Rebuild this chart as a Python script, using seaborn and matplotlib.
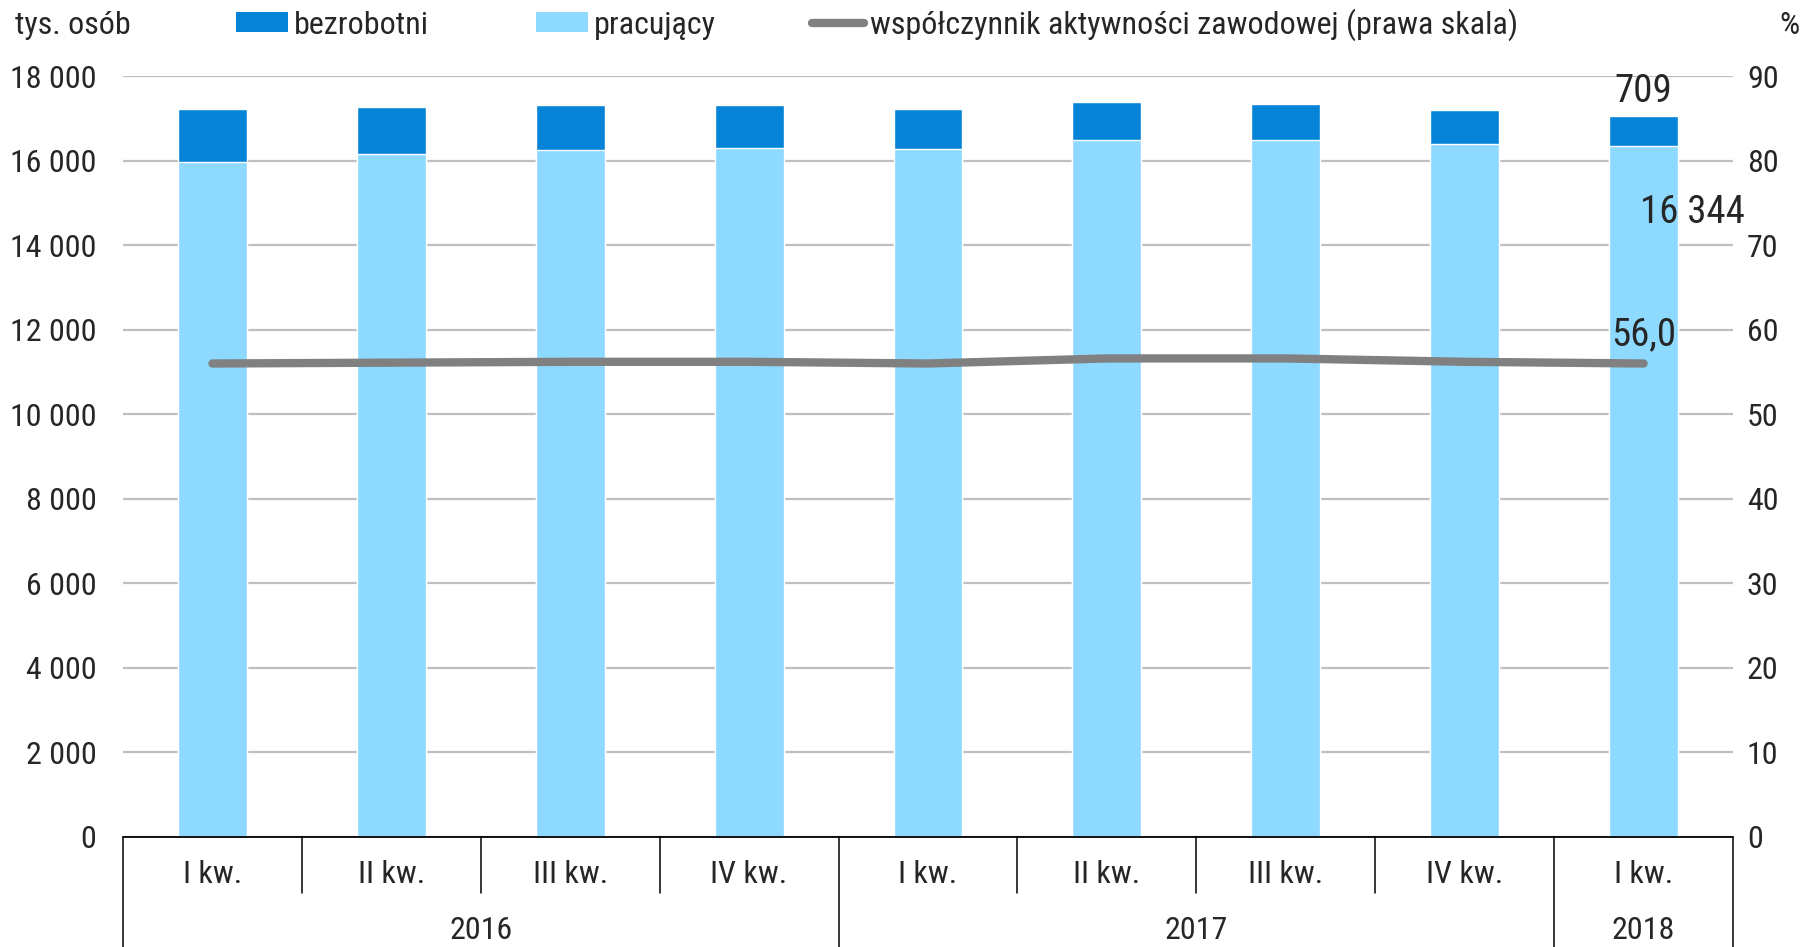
import matplotlib
matplotlib.use("Agg")
import matplotlib.pyplot as plt
import matplotlib.font_manager as fm
import seaborn as sns
import pandas as pd
import numpy as np
from matplotlib.patches import Patch
from matplotlib.lines import Line2D

quarters = ["I kw.", "II kw.", "III kw.", "IV kw.", "I kw.", "II kw.", "III kw.", "IV kw.", "I kw."]
years = ["2016", "2016", "2016", "2016", "2017", "2017", "2017", "2017", "2018"]
pracujacy = [15968, 16163, 16255, 16295, 16265, 16489, 16495, 16394, 16344]
bezrobotni = [1250, 1094, 1058, 1018, 945, 887, 849, 792, 709]
wsp_aktywnosci = [56.0, 56.1, 56.2, 56.2, 56.0, 56.6, 56.6, 56.2, 56.0]
left_ticks = [0, 2000, 4000, 6000, 8000, 10000, 12000, 14000, 16000, 18000]
right_ticks = [0, 10, 20, 30, 40, 50, 60, 70, 80, 90]

sns.set_theme(style="white")
avail = {f.name for f in fm.fontManager.ttflist}
fam = [f for f in ["Roboto Condensed", "Liberation Sans Narrow"] if f in avail] + ["DejaVu Sans"]
plt.rcParams["font.family"] = fam

C_BEZ = "#0583D6"
C_PRA = "#8DD9FF"
C_LINE = "#808080"
C_GRID = "#BFBFBF"
FS = 23
FA = 28

labels = [f"{y} {q}" for y, q in zip(years, quarters)]
df = pd.DataFrame({"kat": labels, "pracujacy": pracujacy, "bezrobotni": bezrobotni,
                   "total": np.array(pracujacy) + np.array(bezrobotni), "wsp": wsp_aktywnosci})

fig = plt.figure(figsize=(18.06, 9.47), dpi=100)
ax = fig.add_axes([0.0681, 0.1162, 0.9596 - 0.0681, 0.9197 - 0.1162])

sns.barplot(data=df, x="kat", y="total", color=C_BEZ, width=0.385, ax=ax, saturation=1, zorder=2)
sns.barplot(data=df, x="kat", y="pracujacy", color=C_PRA, width=0.385, ax=ax, saturation=1, zorder=3)

ax.set_xlim(-0.5, 8.5)
ax.set_ylim(0, 18000)
ax.set_yticks(left_ticks)
ax.set_yticklabels([f"{v:,}".replace(",", " ") for v in left_ticks], fontsize=FS)
ax.tick_params(axis="y", length=0, pad=19)
ax.set_xticks([])
ax.set_xlabel("")
ax.set_ylabel("")
ax.grid(axis="y", color=C_GRID, linewidth=1.6, zorder=0)
ax.set_axisbelow(True)
for s in ax.spines.values():
    s.set_visible(False)

ax2 = ax.twinx()
x_num = np.arange(len(wsp_aktywnosci))
sns.lineplot(x=x_num, y=wsp_aktywnosci, ax=ax2, color=C_LINE, linewidth=6, zorder=5,
             solid_capstyle="round")
ax2.set_ylim(0, 90)
ax2.set_xlim(-0.5, 8.5)
ax2.set_yticks(right_ticks)
ax2.set_yticklabels([str(v) for v in right_ticks], fontsize=FS)
ax2.tick_params(axis="y", length=0, pad=10)
ax2.set_ylabel("")
ax2.grid(False)
for s in ax2.spines.values():
    s.set_visible(False)

# category axis box
tr = ax.get_xaxis_transform()
ax_h_px = 837 - 76
def yfrac(px_below):
    return -px_below / ax_h_px
ax.plot([-0.5, 8.5], [0, 0], color="black", lw=1.3, transform=tr, clip_on=False, zorder=6)
for xb in [-0.5, 3.5, 7.5, 8.5]:
    ax.plot([xb, xb], [0, yfrac(115)], color="black", lw=1.1, transform=tr, clip_on=False)
for xb in [0.5, 1.5, 2.5, 4.5, 5.5, 6.5]:
    ax.plot([xb, xb], [0, yfrac(56)], color="black", lw=1.1, transform=tr, clip_on=False)
for i, q in enumerate(quarters):
    ax.text(i, yfrac(38), q, transform=tr, ha="center", va="center", fontsize=FS)
year_groups = {}
for i, y in enumerate(years):
    year_groups.setdefault(y, []).append(i)
for y, idx in year_groups.items():
    ax.text(np.mean(idx), yfrac(94), y, transform=tr, ha="center", va="center", fontsize=FS)

# annotations
n = len(pracujacy) - 1
ax.annotate(f"{bezrobotni[n]}", xy=(n, pracujacy[n] + bezrobotni[n]), xytext=(0, 18),
            textcoords="offset points", ha="center", va="center", fontsize=FA, zorder=7)
ax.annotate(f"{pracujacy[n]:,}".replace(",", " "), xy=(n, pracujacy[n]), xytext=(35, -48),
            textcoords="offset points", ha="center", va="center", fontsize=FA, zorder=7)
ax2.annotate(f"{wsp_aktywnosci[n]:.1f}".replace(".", ","), xy=(n, wsp_aktywnosci[n]), xytext=(0, 21),
             textcoords="offset points", ha="center", va="center", fontsize=FA, zorder=7)

fig.text(15 / 1806, 1 - 25 / 947, "tys. osób", ha="left", va="center", fontsize=FS)
fig.text(1800 / 1806, 1 - 25 / 947, "%", ha="right", va="center", fontsize=FS)

handles = [Patch(facecolor=C_BEZ, edgecolor="none"), Patch(facecolor=C_PRA, edgecolor="none"),
           Line2D([0], [0], color=C_LINE, lw=6, solid_capstyle="round")]
names = ["bezrobotni", "pracujący", "współczynnik aktywności zawodowej (prawa skala)"]
x_starts = [236, 536, 812]
for h, nm, xs in zip(handles, names, x_starts):
    fig.legend([h], [nm], loc="center left", bbox_to_anchor=(xs / 1806, 1 - 25 / 947),
               frameon=False, fontsize=FS, handlelength=1.63, handleheight=0.6, handletextpad=0.18,
               borderaxespad=0, borderpad=0)

fig.savefig("out.png", dpi=100)
